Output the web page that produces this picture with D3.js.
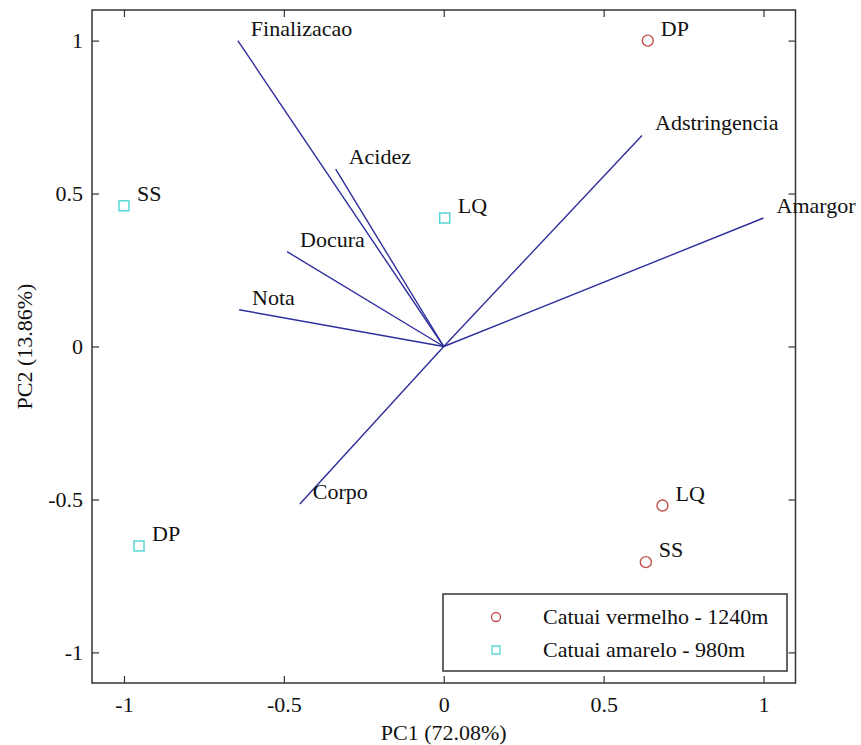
<!DOCTYPE html>
<html>
<head>
<meta charset="utf-8">
<script src="https://cdn.jsdelivr.net/npm/d3@7"></script>
<style>
    body { margin: 0; background: #fff; }
    svg text { font-family: "Liberation Serif", "Times New Roman", serif; fill: #111; }
</style>
</head>
<body>
<div id="chart"></div>
<script>

// tick values for both axes
var tickValues = [-1, -0.5, 0, 0.5, 1];

// loading vectors (variables)
var loadingNames = ["Finalizacao", "Acidez", "Docura", "Nota", "Corpo", "Adstringencia", "Amargor"];
var loadingX = [-0.644, -0.338, -0.49, -0.64, -0.45, 0.62, 1.0];
var loadingY = [1.0, 0.58, 0.31, 0.12, -0.515, 0.69, 0.42];

// scores, Catuai vermelho
var redNames = ["DP", "LQ", "SS"];
var redX = [0.638, 0.684, 0.632];
var redY = [1.0, -0.52, -0.705];

// scores, Catuai amarelo
var cyanNames = ["SS", "LQ", "DP"];
var cyanX = [-1.0, 0.003, -0.953];
var cyanY = [0.46, 0.42, -0.652];

var seriesNames = ["Catuai vermelho - 1240m", "Catuai amarelo - 980m"];

var width = 861, height = 745;
var margin = { top: 10, right: 65, bottom: 62, left: 92 };
var fontSize = 22;
var lineColor = "#2e2e9c", redColor = "#c0504d", cyanColor = "#4dd3d3", frameColor = "#333";

var svg = d3.select("#chart")
    .append("svg")
    .attr("width", width)
    .attr("height", height);

var x = d3.scaleLinear().domain([-1.1, 1.1]).range([margin.left, width - margin.right - 0.5]);
var y = d3.scaleLinear().domain([-1.1, 1.1]).range([height - margin.bottom, margin.top]);

var fmt = function (d) { return String(d); };

// frame
svg.append("rect")
    .attr("x", x(-1.1))
    .attr("y", y(1.1))
    .attr("width", x(1.1) - x(-1.1))
    .attr("height", y(-1.1) - y(1.1))
    .attr("fill", "none")
    .attr("stroke", frameColor)
    .attr("stroke-width", 1.5);

// inward ticks on all four sides
var styleAxis = function (g, labels) {
    g.select(".domain").remove();
    g.selectAll(".tick line").attr("stroke", frameColor).attr("stroke-width", 1.2);
    g.selectAll(".tick text")
        .style("font-size", fontSize + "px")
        .attr("fill", "#111");
    if (!labels) g.selectAll(".tick text").remove();
};

svg.append("g")
    .attr("transform", "translate(0," + y(-1.1) + ")")
    .call(d3.axisBottom(x).tickValues(tickValues).tickFormat(fmt).tickSizeInner(-7).tickSizeOuter(0).tickPadding(13))
    .call(styleAxis, true);

svg.append("g")
    .attr("transform", "translate(0," + y(1.1) + ")")
    .call(d3.axisTop(x).tickValues(tickValues).tickSizeInner(-7).tickSizeOuter(0))
    .call(styleAxis, false);

svg.append("g")
    .attr("transform", "translate(" + x(-1.1) + ",0)")
    .call(d3.axisLeft(y).tickValues(tickValues).tickFormat(fmt).tickSizeInner(-7).tickSizeOuter(0).tickPadding(9))
    .call(styleAxis, true);

svg.append("g")
    .attr("transform", "translate(" + x(1.1) + ",0)")
    .call(d3.axisRight(y).tickValues(tickValues).tickSizeInner(-7).tickSizeOuter(0))
    .call(styleAxis, false);

// axis labels
svg.append("text")
    .attr("x", x(0))
    .attr("y", 740)
    .attr("text-anchor", "middle")
    .style("font-size", fontSize + "px")
    .text("PC1 (72.08%)");

svg.append("text")
    .attr("transform", "translate(32," + y(0) + ") rotate(-90)")
    .attr("text-anchor", "middle")
    .style("font-size", fontSize + "px")
    .text("PC2 (13.86%)");

// loading vectors
var loadings = loadingNames.map(function (n, i) { return { name: n, x: loadingX[i], y: loadingY[i] }; });

svg.append("g")
    .selectAll("line")
    .data(loadings)
    .enter()
    .append("line")
    .attr("x1", x(0))
    .attr("y1", y(0))
    .attr("x2", function (d) { return x(d.x); })
    .attr("y2", function (d) { return y(d.y); })
    .attr("stroke", lineColor)
    .attr("stroke-width", 1.4);

svg.append("g")
    .selectAll("text")
    .data(loadings)
    .enter()
    .append("text")
    .attr("x", function (d) { return x(d.x) + 13; })
    .attr("y", function (d) { return y(d.y) - 5; })
    .style("font-size", fontSize + "px")
    .text(function (d) { return d.name; });

// score points
var reds = redNames.map(function (n, i) { return { name: n, x: redX[i], y: redY[i] }; });
var cyans = cyanNames.map(function (n, i) { return { name: n, x: cyanX[i], y: cyanY[i] }; });

svg.append("g")
    .selectAll("circle")
    .data(reds)
    .enter()
    .append("circle")
    .attr("cx", function (d) { return x(d.x); })
    .attr("cy", function (d) { return y(d.y); })
    .attr("r", 5.5)
    .attr("fill", "none")
    .attr("stroke", redColor)
    .attr("stroke-width", 1.4);

svg.append("g")
    .selectAll("rect")
    .data(cyans)
    .enter()
    .append("rect")
    .attr("x", function (d) { return x(d.x) - 5; })
    .attr("y", function (d) { return y(d.y) - 5; })
    .attr("width", 10)
    .attr("height", 10)
    .attr("fill", "none")
    .attr("stroke", cyanColor)
    .attr("stroke-width", 1.4);

svg.append("g")
    .selectAll("text")
    .data(reds.concat(cyans))
    .enter()
    .append("text")
    .attr("x", function (d) { return x(d.x) + 13; })
    .attr("y", function (d) { return y(d.y) - 5; })
    .style("font-size", fontSize + "px")
    .text(function (d) { return d.name; });

// legend
var legend = svg.append("g").attr("transform", "translate(443,594)");

legend.append("rect")
    .attr("width", 344)
    .attr("height", 77)
    .attr("fill", "#fff")
    .attr("stroke", frameColor)
    .attr("stroke-width", 1.5);

legend.append("circle")
    .attr("cx", 53)
    .attr("cy", 23)
    .attr("r", 4.5)
    .attr("fill", "none")
    .attr("stroke", redColor)
    .attr("stroke-width", 1.3);

legend.append("rect")
    .attr("x", 49)
    .attr("y", 52)
    .attr("width", 8)
    .attr("height", 8)
    .attr("fill", "none")
    .attr("stroke", cyanColor)
    .attr("stroke-width", 1.3);

legend.selectAll(".legend-label")
    .data(seriesNames)
    .enter()
    .append("text")
    .attr("class", "legend-label")
    .attr("x", 100)
    .attr("y", function (d, i) { return 30 + i * 33; })
    .style("font-size", fontSize + "px")
    .text(function (d) { return d; });

</script>
</body>
</html>
